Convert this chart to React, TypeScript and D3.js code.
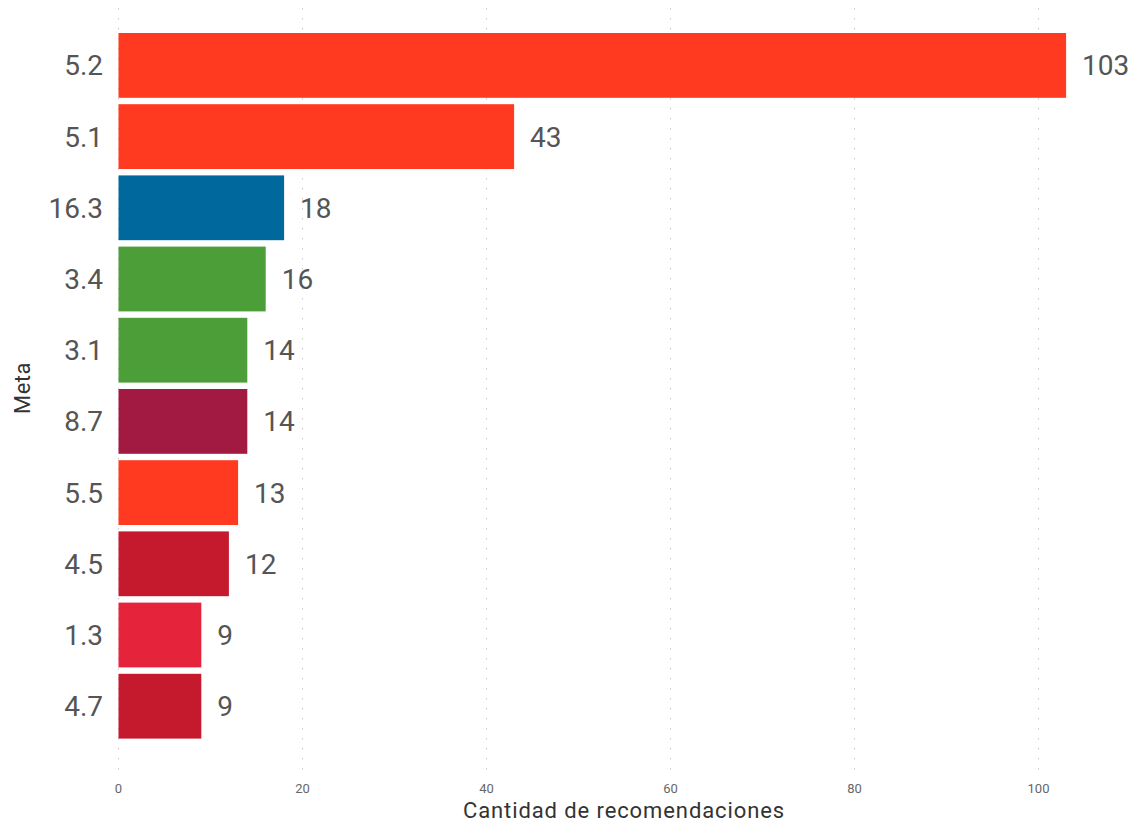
import React from "react";
import * as d3 from "d3";

const categories = ["5.2", "5.1", "16.3", "3.4", "3.1", "8.7", "5.5", "4.5", "1.3", "4.7"];
const values = [103, 43, 18, 16, 14, 14, 13, 12, 9, 9];
const colors = ["#FF3A21", "#FF3A21", "#00689D", "#4C9F38", "#4C9F38", "#A21942", "#FF3A21", "#C5192D", "#E5243B", "#C5192D"];
const ticks = [0, 20, 40, 60, 80, 100];

const W = 1137;
const H = 825;
const FONT = "Roboto, 'DejaVu Sans', sans-serif";

export default function App() {
  const x = d3.scaleLinear().domain([0, 100]).range([118.5, 1038.5]);
  const y = d3.scaleBand<string>().domain(categories).range([29.8, 741.8]).paddingInner(0.09).paddingOuter(0.045);

  return (
    <svg width={W} height={H} style={{ position: "absolute", left: 0, top: 0, background: "#fff" }} fontFamily={FONT}>
      {ticks.map((t) => (
        <g key={t}>
          <line x1={x(t)} x2={x(t)} y1={8} y2={772} stroke="#c8c8c8" strokeWidth={1} strokeDasharray="1.5 8.5" />
          <text x={x(t)} y={793} textAnchor="middle" fontSize={13} fill="#666">{t}</text>
        </g>
      ))}
      {categories.map((c, i) => {
        const yy = y(c) as number;
        const bh = y.bandwidth();
        return (
          <g key={c}>
            <rect x={x(0)} y={yy} width={x(values[i]) - x(0)} height={bh} fill={colors[i]} />
            <text x={103} y={yy + bh / 2} dy="0.36em" textAnchor="end" fontSize={28} fill="#555">{c}</text>
            <text x={x(values[i]) + 16} y={yy + bh / 2} dy="0.36em" textAnchor="start" fontSize={28} fill="#555">{values[i]}</text>
          </g>
        );
      })}
      <text x={624} y={818} textAnchor="middle" fontSize={22} letterSpacing={0.9} fill="#333">Cantidad de recomendaciones</text>
      <text transform="translate(30,388) rotate(-90)" textAnchor="middle" fontSize={22} letterSpacing={0.5} fill="#333">Meta</text>
    </svg>
  );
}
